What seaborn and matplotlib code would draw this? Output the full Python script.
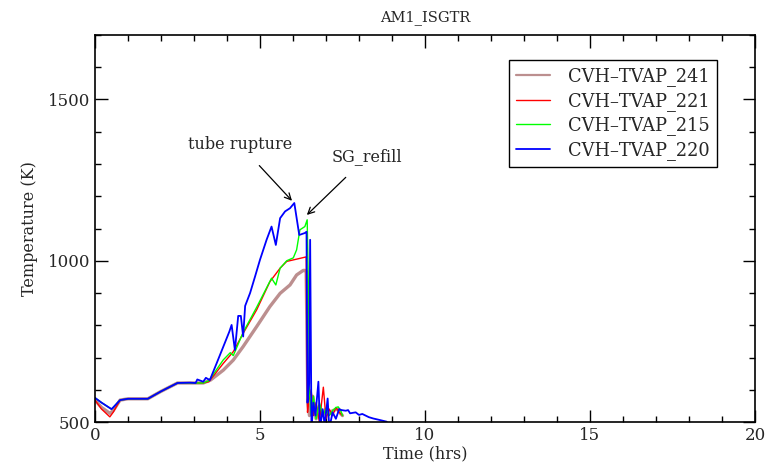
import numpy as np
import pandas as pd
import matplotlib
matplotlib.use("Agg")
import matplotlib.pyplot as plt
import seaborn as sns
from matplotlib.ticker import MultipleLocator

# ---- data (time in hrs, temperature in K) ----
names = ["CVH\u2013TVAP_241", "CVH\u2013TVAP_221", "CVH\u2013TVAP_215", "CVH\u2013TVAP_220"]

t_241 = [0.0, 0.2, 0.45, 0.55, 0.76, 1.0, 1.6, 2.0, 2.5, 2.97, 3.28, 3.5, 3.89, 4.19, 4.49, 4.9, 5.3, 5.61, 5.91, 6.11, 6.31, 6.36, 6.40,
         6.45, 6.5, 6.6, 6.7, 6.8, 6.9, 7.0, 7.1, 7.2, 7.35, 7.45, 7.5]
T_241 = [568, 545, 527, 535, 568, 572, 572, 595, 621, 621, 621, 630, 661, 692, 734, 796, 858, 899, 925, 956, 970, 970, 968,
         560, 520, 580, 510, 550, 520, 540, 525, 535, 540, 525, 520]

t_221 = [0.0, 0.2, 0.45, 0.55, 0.76, 1.0, 1.6, 2.0, 2.5, 2.97, 3.28, 3.45, 3.89, 4.19, 4.49, 4.9, 5.3, 5.61, 5.81, 6.11, 6.36, 6.40,
         6.44, 6.47, 6.55, 6.62, 6.7, 6.8, 6.92, 7.0, 7.1, 7.2, 7.3, 7.4, 7.5]
T_221 = [568, 540, 516, 530, 568, 572, 572, 595, 621, 621, 621, 625, 682, 718, 775, 848, 935, 977, 998, 1005, 1011, 1012,
         530, 560, 600, 520, 560, 500, 608, 510, 540, 520, 545, 530, 520]

t_215 = [0.0, 0.2, 0.5, 0.55, 0.76, 1.0, 1.6, 2.0, 2.5, 2.97, 3.28, 3.45, 3.89, 4.1, 4.19, 4.25, 4.49, 4.9, 5.35, 5.48, 5.61, 5.81, 6.01,
         6.11, 6.21, 6.36, 6.43, 6.47, 6.5, 6.55, 6.62, 6.7, 6.8, 6.9, 7.0, 7.1, 7.2, 7.3, 7.37, 7.45, 7.5]
T_215 = [575, 560, 540, 545, 568, 572, 572, 595, 621, 621, 621, 628, 693, 715, 706, 720, 778, 856, 946, 925, 977, 1000, 1009,
         1034, 1096, 1106, 1127, 904, 600, 520, 580, 510, 560, 520, 540, 520, 535, 545, 547, 535, 520]

t_220 = [0.0, 0.2, 0.5, 0.55, 0.76, 1.0, 1.6, 2.0, 2.5, 2.88, 3.05, 3.1, 3.28, 3.36, 3.48, 3.69, 3.89, 4.07, 4.14, 4.24, 4.34, 4.42,
         4.49, 4.55, 4.7, 4.85, 5.0, 5.2, 5.35, 5.48, 5.61, 5.76, 5.91, 6.04, 6.19, 6.36, 6.41, 6.44, 6.49, 6.52, 6.56, 6.62,
         6.68, 6.77, 6.82, 6.9, 6.96, 7.05, 7.1, 7.2, 7.3, 7.4, 7.47, 7.6, 7.67, 7.73, 7.9, 8.0, 8.1, 8.2, 8.3, 8.43, 8.64, 8.84]
T_220 = [575, 560, 540, 545, 568, 572, 572, 595, 621, 622, 621, 632, 625, 637, 630, 683, 734, 780, 801, 723, 829, 829,
         765, 860, 900, 951, 1003, 1065, 1106, 1049, 1132, 1153, 1163, 1179, 1080, 1086, 1090, 560, 620, 1065, 480, 560,
         520, 625, 480, 540, 490, 573, 480, 530, 510, 540, 537, 535, 537, 527, 530, 522, 525, 520, 515, 511, 506, 501]

series = [(names[0], t_241, T_241), (names[1], t_221, T_221), (names[2], t_215, T_215), (names[3], t_220, T_220)]
df = pd.concat([pd.DataFrame({"Time": t, "Temp": T, "Series": n}) for n, t, T in series], ignore_index=True)

colors = {names[0]: "#bc8f8f", names[1]: "#ff0000", names[2]: "#00ff00", names[3]: "#0000ff"}
widths = {names[0]: 2.4, names[1]: 1.0, names[2]: 1.0, names[3]: 1.3}
leg_widths = {names[0]: 1.6, names[1]: 1.0, names[2]: 1.0, names[3]: 1.3}

sns.set_style("ticks")
plt.rcParams["font.family"] = ["DejaVu Serif"]

fig = plt.figure(figsize=(7.78, 4.76), dpi=100)
ax = fig.add_axes([0.1221, 0.1134, 0.8483, 0.8131])

for n in names:
    sns.lineplot(data=df[df["Series"] == n], x="Time", y="Temp", color=colors[n], linewidth=widths[n],
                 label=n, ax=ax, sort=False, estimator=None)

ax.set_xlim(0, 20)
ax.set_ylim(500, 1700)
ax.xaxis.set_major_locator(MultipleLocator(5))
ax.xaxis.set_minor_locator(MultipleLocator(1))
ax.yaxis.set_major_locator(MultipleLocator(500))
ax.yaxis.set_minor_locator(MultipleLocator(100))
ax.tick_params(which="both", direction="in", top=True, right=True, labelsize=12, width=1.0, color="black")
ax.tick_params(which="major", length=9)
ax.tick_params(which="minor", length=4.5)
for s in ax.spines.values():
    s.set_linewidth(1.2)
    s.set_color("black")

ax.set_xlabel("Time (hrs)", fontsize=11.5, labelpad=1)
ax.set_ylabel("Temperature (K)", fontsize=11.5, labelpad=7)
ax.set_title("AM1_ISGTR", fontsize=10.5, pad=10)

ax.annotate("tube rupture", xy=(5.97, 1186), xytext=(4.39, 1360), ha="center", va="center", fontsize=11.5,
            arrowprops=dict(arrowstyle="->", color="black", lw=0.9, shrinkA=9, shrinkB=0))
ax.annotate("SG_refill", xy=(6.42, 1142), xytext=(8.24, 1322), ha="center", va="center", fontsize=11.5,
            arrowprops=dict(arrowstyle="->", color="black", lw=0.9, shrinkA=9, shrinkB=0))

leg = ax.legend(loc="upper right", bbox_to_anchor=(0.942, 0.935), borderaxespad=0, fontsize=12.8, frameon=True,
                fancybox=False, edgecolor="black", framealpha=1, handlelength=1.9, handletextpad=1.0,
                borderpad=0.4, labelspacing=0.32)
leg.get_frame().set_linewidth(1.0)
for line, n in zip(leg.get_lines(), names):
    line.set_linewidth(leg_widths[n])

fig.savefig("out.png", dpi=100)
